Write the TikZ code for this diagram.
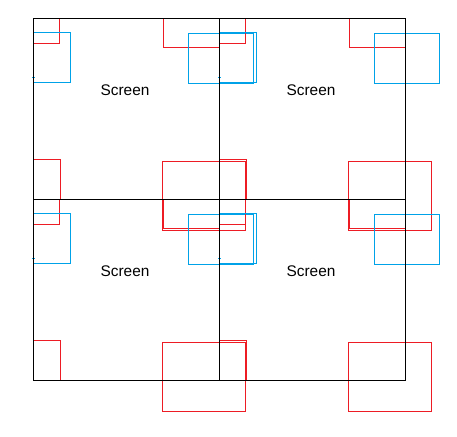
\documentclass[tikz,border=0pt]{standalone}
\usepackage{fontspec}
\setmainfont{Liberation Sans}
\definecolor{rd}{RGB}{237,28,36}
\definecolor{bl}{RGB}{0,162,232}
\tikzset{
  scr/.style={draw=black, line width=1pt},
  redbox/.style={draw=rd, line width=1pt},
  bluebox/.style={draw=bl, line width=1pt},
  lbl/.style={inner sep=0pt, font=\fontsize{15.4}{17}\selectfont}
}
\newcommand\overlays[2]{%
  \begin{scope}[shift={(#1,#2)}]
    \draw[redbox] (33.3,18.3) rectangle (59.3,43.3);
    \draw[redbox] (33.3,159.3) rectangle (60.3,199.3);
    \draw[redbox] (163.3,18.3) rectangle (219.3,47.3);
    \draw[redbox] (162.3,161.3) rectangle (245.3,230.3);
    \draw[bluebox] (33.3,32.3) rectangle (70.3,82.3);
    \draw[bluebox] (188.3,33.3) rectangle (253.3,83.3);
    \draw[bluebox] (32.2,77.7) -- (34.8,77.7);
  \end{scope}}
\newcommand\screenframe[3]{%
  \begin{scope}[shift={(#1,#2)}]
    \draw[scr] (33.3,18.3) rectangle (219.3,199.3);
    \node[lbl] (#3) at (125,90.5) {Screen};
  \end{scope}}
\begin{document}
\begin{tikzpicture}[x=1pt,y=-1pt]
  \useasboundingbox[fill=white] (0,0) rectangle (457,436);
  \overlays{0}{0}
  \overlays{186}{0}
  \overlays{0}{181}
  \overlays{186}{181}
  \screenframe{0}{0}{s1}
  \screenframe{186}{0}{s2}
  \screenframe{0}{181}{s3}
  \screenframe{186}{181}{s4}
\end{tikzpicture}
\end{document}
